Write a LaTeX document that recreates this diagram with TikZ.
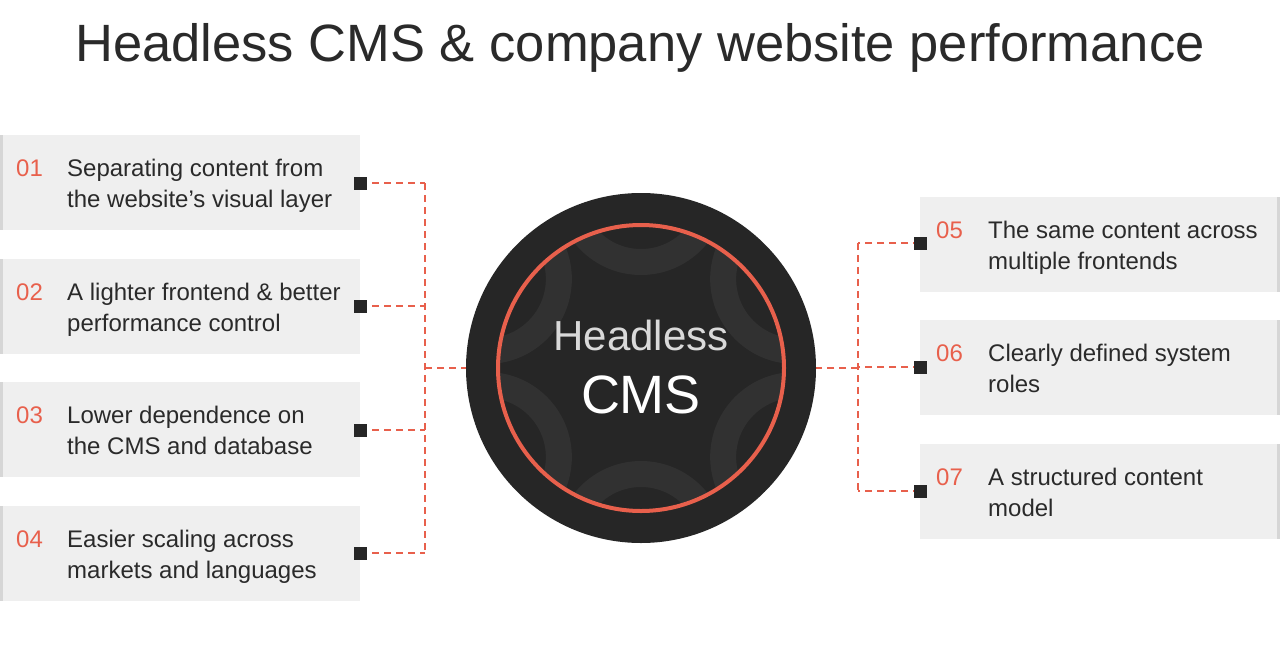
\documentclass[tikz,border=0pt]{standalone}
\usepackage{fontspec}
\setmainfont{Liberation Sans}
\usetikzlibrary{calc}
\definecolor{acc}{HTML}{E8604C}
\definecolor{card}{HTML}{EFEFEF}
\definecolor{edge}{HTML}{D6D6D6}
\definecolor{dark}{HTML}{262626}
\definecolor{txt}{HTML}{2A2A2A}
\begin{document}
\begin{tikzpicture}[x=1pt,y=-1pt,
  num/.style={anchor=base west,text=acc,font=\fontsize{24}{26}\selectfont,inner sep=0pt},
  lab/.style={anchor=base west,text=txt,align=left,font=\fontsize{24}{31}\selectfont,inner sep=0pt},
  sq/.style={fill=dark,minimum size=13pt,inner sep=0pt,draw=none},
  dl/.style={acc,line width=1.5pt,dash pattern=on 7pt off 5pt}]
\useasboundingbox (0,0) rectangle (1280,659);
\fill[white] (0,0) rectangle (1280,659);
\node[font=\fontsize{52.5}{56}\selectfont,text=txt] (title) at (640,48) {Headless CMS \& company website performance};
% left cards
\foreach \i/\t/\a/\b in {1/135/Separating content from/the website’s visual layer,2/259/A lighter frontend \& better/performance control,3/382/Lower dependence on/the CMS and database,4/506/Easier scaling across/markets and languages}{
  \fill[card] (0,\t) rectangle (360,\t+95);
  \fill[edge] (0,\t) rectangle (3,\t+95);
  \node[num] (n\i) at (16,\t+41) {0\i};
  \node[lab] (l\i) at (67,\t+41) {\a};
  \node[lab] (m\i) at (67,\t+72) {\b};
}
% right cards
\foreach \i/\t/\a/\b in {5/197/The same content across/multiple frontends,6/320/Clearly defined system/roles,7/444/A structured content/model}{
  \fill[card] (920,\t) rectangle (1280,\t+95);
  \fill[edge] (1277,\t) rectangle (1280,\t+95);
  \node[num] (n\i) at (936,\t+41) {0\i};
  \node[lab] (l\i) at (988,\t+41) {\a};
  \node[lab] (m\i) at (988,\t+72) {\b};
}
% connectors
\coordinate (hl) at (425,368);
\coordinate (hr) at (858,368);
\coordinate (c) at (641,368);
\foreach \y/\n in {183/1,306/2,430/3,553/4}{
  \coordinate (s\n) at (360,\y);
  \draw[dl] (s\n) -- (425,\y);
}
\draw[dl] (425,183) -- (425,553);
\draw[dl] (hl) -- (c);
\foreach \y/\n in {243/5,367/6,491/7}{
  \coordinate (s\n) at (920,\y);
  \draw[dl] (s\n) -- (858,\y);
}
\draw[dl] (858,243) -- (858,491);
\draw[dl] (hr) -- (c);
\foreach \n in {1,2,3,4,5,6,7}{\node[sq] at (s\n) {};}
% hub
\fill[dark] (c) circle (175);
\begin{scope}
\clip (c) circle (143);
\foreach \ang in {90,30,-30,-90,150,210}{
  \draw[color=white!5!dark,line width=26pt] ($(c)+(\ang:178)$) circle (72);
}
\end{scope}
\draw[acc,line width=4pt] (c) circle (143);
\node[text=white!85!black,font=\fontsize{42}{46}\selectfont] (h1) at (641,335) {Headless};
\node[text=white,font=\fontsize{54}{58}\selectfont] (h2) at (641,395) {CMS};
\end{tikzpicture}
\end{document}
